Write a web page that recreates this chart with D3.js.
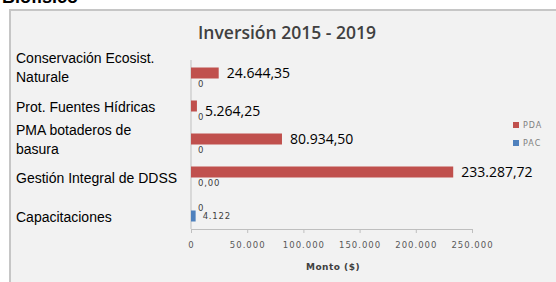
<!DOCTYPE html>
<html><head><meta charset="utf-8">
<script src="https://cdn.jsdelivr.net/npm/d3@7/dist/d3.min.js"></script>
<style>body{margin:0;background:#fff;}svg{display:block;}</style>
</head><body>
<svg id="c" width="556" height="282"></svg>
<script>
const categories = ["Conservación Ecosist. Naturale","Prot. Fuentes Hídricas","PMA botaderos de basura","Gestión Integral de DDSS","Capacitaciones"];
const categoryLines = [["Conservación Ecosist.","Naturale"],["Prot. Fuentes Hídricas"],["PMA botaderos de","basura"],["Gestión Integral de DDSS"],["Capacitaciones"]];
const pdaValues = [24644.35, 5264.25, 80934.50, 233287.72, 0];
const pacValues = [0, 0, 0, 0, 4122];
const pdaLabels = ["24.644,35","5.264,25","80.934,50","233.287,72","0"];
const pacLabels = ["0","0","0","0,00","4.122"];
const xTicks = [0,50000,100000,150000,200000,250000];
const xTickLabels = ["0","50.000","100.000","150.000","200.000","250.000"];
const seriesNames = ["PDA","PAC"];
const colors = {PDA:"#c0504d", PAC:"#4f81bd"};

const svg = d3.select("#c");
svg.append("text").attr("x",2).attr("y",3).attr("font-family","Liberation Sans, Arial").attr("font-weight","bold").attr("font-size",18).attr("fill","#000").text("Biofísico");
svg.append("rect").attr("x",10).attr("y",10).attr("width",560).attr("height",290).attr("fill","#f2f2f2").attr("stroke","#c6c6c6").attr("stroke-width",2);

const x = d3.scaleLinear().domain([0,250000]).range([191,472]);
const y = d3.scaleBand().domain(categories).range([62,227]).paddingInner(1/3).paddingOuter(1/6);
const bh = y.bandwidth()/2;

svg.append("text").attr("x",287).attr("y",39).attr("text-anchor","middle").attr("font-family","Open Sans").attr("font-weight",600).attr("font-size",17.5).attr("fill","#404040").text("Inversión 2015 - 2019");

const g = svg.append("g");
g.append("line").attr("x1",x(0)).attr("x2",x(0)).attr("y1",60).attr("y2",229).attr("stroke","#bfbfbf");
const xAxis = d3.axisBottom(x).tickValues(xTicks).tickFormat((d,i)=>xTickLabels[i]).tickSize(4).tickPadding(9);
const ax = g.append("g").attr("transform","translate(0,229)").call(xAxis);
ax.select(".domain").attr("stroke","#bfbfbf").attr("d",`M${x(0)},0.5H${x(250000)+1}`);
ax.selectAll(".tick line").attr("stroke","#bfbfbf");
ax.selectAll(".tick text").attr("font-family","DejaVu Sans").attr("font-size",8.5).attr("letter-spacing",1).attr("fill","#595959");
svg.append("text").attr("x",333).attr("y",270).attr("text-anchor","middle").attr("font-family","DejaVu Sans").attr("font-weight","bold").attr("font-size",9).attr("letter-spacing",0.5).attr("fill","#404040").text("Monto ($)");

categories.forEach((c,i)=>{
  const top = y(c);
  svg.append("rect").attr("x",x(0)).attr("y",top).attr("width",x(pdaValues[i])-x(0)).attr("height",bh).attr("fill",colors.PDA);
  svg.append("rect").attr("x",x(0)).attr("y",top+bh).attr("width",x(pacValues[i])-x(0)).attr("height",bh).attr("fill",colors.PAC);
});

const nudge = {"Prot. Fuentes Hídricas":5};
categories.forEach((c,i)=>{
  const cy = y(c)+bh/2;
  if (pdaValues[i] > 0) {
    svg.append("text").attr("x",x(pdaValues[i])+8).attr("y",cy+(nudge[c]||0)).attr("dy","0.35em")
      .attr("font-family","Open Sans").attr("font-size",14).attr("fill","#000").text(pdaLabels[i]);
  } else {
    svg.append("text").attr("x",x(0)+7).attr("y",cy+3).attr("dy","0.35em")
      .attr("font-family","DejaVu Sans").attr("font-size",8.5).attr("letter-spacing",0.8).attr("fill","#404040").text(pdaLabels[i]);
  }
  svg.append("text").attr("x",x(pacValues[i])+7).attr("y",cy+bh).attr("dy","0.35em")
    .attr("font-family","DejaVu Sans").attr("font-size",8.5).attr("letter-spacing",0.8).attr("fill","#404040").text(pacLabels[i]);
});

const labelShift = [-11, -4, -5, 1, 7];
categoryLines.forEach((lines,i)=>{
  const c = y(categories[i])+bh + labelShift[i];
  const n = lines.length;
  lines.forEach((l,j)=>{
    svg.append("text").attr("x",16).attr("y",c + (j-(n-1)/2)*19).attr("dy","0.35em")
      .attr("font-family","Liberation Sans, Arial").attr("font-size",14).attr("fill","#000").text(l);
  });
});

seriesNames.forEach((s,i)=>{
  const ly = 125 + i*18;
  svg.append("rect").attr("x",513).attr("y",ly-3).attr("width",6).attr("height",6).attr("fill",colors[s]);
  svg.append("text").attr("x",523).attr("y",ly).attr("dy","0.35em").attr("font-family","DejaVu Sans").attr("font-size",8).attr("letter-spacing",1).attr("fill","#7f7f7f").text(s);
});
</script>
</body></html>
